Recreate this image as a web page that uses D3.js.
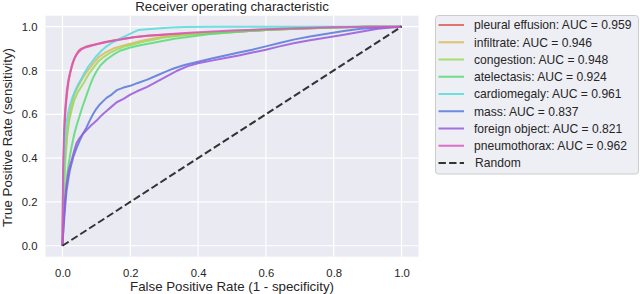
<!DOCTYPE html>
<html><head><meta charset="utf-8">
<script src="https://cdn.jsdelivr.net/npm/d3@7"></script>
<style>
html,body{margin:0;padding:0;background:#fff;}
text{font-family:"Liberation Sans",Arial,sans-serif;fill:#262626;}
</style></head>
<body><svg id="c" width="640" height="294"></svg>
<script>
const seriesNames = ["pleural effusion","infiltrate","congestion","atelectasis","cardiomegaly","mass","foreign object","pneumothorax"];
const aucValues = ["0.959","0.946","0.948","0.924","0.961","0.837","0.821","0.962"];
const seriesColors = ["#db5f57","#dbba57","#99db57","#57db78","#57dbdb","#5778db","#9957db","#db57ba"];
const xTicks = [0,0.2,0.4,0.6,0.8,1.0];
const yTicks = [0,0.2,0.4,0.6,0.8,1.0];

const pleural = [[0,0],[0.001,0.15],[0.002,0.3],[0.004,0.43],[0.006,0.53],[0.009,0.62],[0.013,0.69],[0.018,0.75],[0.023,0.79],[0.028,0.82],[0.034,0.85],[0.04,0.87],[0.048,0.89],[0.056,0.9],[0.068,0.908],[0.085,0.915],[0.1,0.92],[0.125,0.93],[0.15,0.937],[0.18,0.945],[0.21,0.952],[0.25,0.958],[0.3,0.963],[0.35,0.967],[0.4,0.97],[0.45,0.974],[0.5,0.977],[0.55,0.98],[0.6,0.985],[0.65,0.988],[0.7,0.991],[0.8,0.996],[0.9,0.999],[1,1]];
const infiltrate = [[0,0],[0.002,0.15],[0.005,0.3],[0.009,0.42],[0.014,0.52],[0.02,0.59],[0.027,0.64],[0.035,0.69],[0.045,0.725],[0.056,0.755],[0.068,0.785],[0.08,0.81],[0.095,0.84],[0.11,0.865],[0.13,0.885],[0.15,0.9],[0.17,0.91],[0.2,0.922],[0.24,0.938],[0.28,0.95],[0.33,0.958],[0.4,0.965],[0.5,0.975],[0.6,0.985],[0.7,0.992],[0.8,0.996],[0.9,0.999],[1,1]];
const congestion = [[0,0],[0.002,0.12],[0.005,0.28],[0.009,0.4],[0.014,0.5],[0.02,0.57],[0.027,0.62],[0.035,0.665],[0.045,0.7],[0.055,0.725],[0.065,0.75],[0.078,0.785],[0.09,0.81],[0.105,0.84],[0.12,0.86],[0.14,0.88],[0.16,0.895],[0.18,0.908],[0.21,0.92],[0.25,0.935],[0.3,0.95],[0.36,0.962],[0.43,0.972],[0.5,0.98],[0.6,0.988],[0.7,0.994],[0.8,0.997],[0.9,0.999],[1,1]];
const atelectasis = [[0,0],[0.003,0.1],[0.007,0.2],[0.012,0.3],[0.017,0.36],[0.022,0.41],[0.028,0.46],[0.035,0.51],[0.042,0.55],[0.05,0.59],[0.058,0.63],[0.066,0.665],[0.074,0.7],[0.082,0.735],[0.09,0.765],[0.1,0.795],[0.113,0.825],[0.13,0.85],[0.15,0.872],[0.17,0.89],[0.2,0.905],[0.233,0.916],[0.28,0.93],[0.33,0.945],[0.38,0.955],[0.43,0.965],[0.5,0.975],[0.6,0.985],[0.7,0.992],[0.8,0.996],[0.9,0.999],[1,1]];
const cardiomegaly = [[0,0],[0.002,0.2],[0.004,0.35],[0.007,0.47],[0.011,0.55],[0.016,0.6],[0.022,0.64],[0.03,0.68],[0.038,0.71],[0.046,0.735],[0.055,0.76],[0.065,0.79],[0.075,0.815],[0.085,0.835],[0.1,0.865],[0.115,0.89],[0.13,0.91],[0.15,0.93],[0.17,0.945],[0.19,0.96],[0.21,0.975],[0.225,0.985],[0.25,0.988],[0.28,0.992],[0.32,0.996],[0.36,0.998],[0.45,0.999],[0.6,1],[1,1]];
const mass = [[0,0],[0.003,0.08],[0.007,0.16],[0.012,0.25],[0.017,0.3],[0.022,0.345],[0.027,0.375],[0.032,0.405],[0.04,0.44],[0.051,0.48],[0.06,0.51],[0.071,0.54],[0.08,0.57],[0.09,0.6],[0.1,0.625],[0.11,0.645],[0.12,0.66],[0.13,0.675],[0.145,0.69],[0.16,0.71],[0.18,0.722],[0.2,0.73],[0.22,0.742],[0.25,0.758],[0.28,0.778],[0.31,0.798],[0.33,0.81],[0.36,0.825],[0.4,0.84],[0.44,0.855],[0.48,0.868],[0.52,0.882],[0.56,0.895],[0.6,0.91],[0.64,0.925],[0.685,0.942],[0.73,0.955],[0.78,0.968],[0.83,0.98],[0.88,0.99],[0.94,0.996],[1,1]];
const foreignObject = [[0,0],[0.003,0.1],[0.007,0.2],[0.012,0.28],[0.018,0.34],[0.023,0.37],[0.027,0.39],[0.034,0.43],[0.041,0.467],[0.05,0.49],[0.06,0.51],[0.071,0.528],[0.085,0.55],[0.1,0.57],[0.115,0.595],[0.13,0.615],[0.145,0.635],[0.16,0.655],[0.18,0.67],[0.2,0.69],[0.22,0.705],[0.25,0.725],[0.28,0.75],[0.31,0.775],[0.34,0.8],[0.37,0.82],[0.4,0.833],[0.44,0.845],[0.48,0.857],[0.52,0.868],[0.56,0.882],[0.6,0.895],[0.64,0.91],[0.685,0.925],[0.73,0.938],[0.78,0.95],[0.83,0.963],[0.88,0.977],[0.93,0.99],[0.97,0.996],[1,1]];
const pneumothorax = [[0,0],[0.001,0.2],[0.002,0.35],[0.004,0.48],[0.006,0.57],[0.009,0.64],[0.013,0.71],[0.018,0.76],[0.024,0.8],[0.03,0.835],[0.037,0.86],[0.045,0.88],[0.055,0.895],[0.068,0.905],[0.085,0.913],[0.1,0.92],[0.125,0.928],[0.15,0.936],[0.18,0.944],[0.21,0.952],[0.25,0.958],[0.3,0.964],[0.35,0.97],[0.4,0.975],[0.5,0.982],[0.6,0.988],[0.7,0.993],[0.8,0.997],[0.9,0.999],[1,1]];
const randomLine = [[0,0],[1,1]];

const seriesData = [pleural, infiltrate, congestion, atelectasis, cardiomegaly, mass, foreignObject, pneumothorax];

const svg = d3.select("#c");
const x = d3.scaleLinear().domain([-0.05,1.05]).range([45.5,418.5]);
const y = d3.scaleLinear().domain([-0.05,1.05]).range([256.7,15.7]);

svg.append("rect").attr("x",x(-0.05)).attr("y",y(1.05)).attr("width",x(1.05)-x(-0.05)).attr("height",y(-0.05)-y(1.05)).attr("fill","#EAEAF2");

// grid
svg.append("g").selectAll("line").data(xTicks).join("line")
  .attr("x1",d=>x(d)).attr("x2",d=>x(d)).attr("y1",y(-0.05)).attr("y2",y(1.05))
  .attr("stroke","#fff").attr("stroke-width",1.2);
svg.append("g").selectAll("line").data(yTicks).join("line")
  .attr("y1",d=>y(d)).attr("y2",d=>y(d)).attr("x1",x(-0.05)).attr("x2",x(1.05))
  .attr("stroke","#fff").attr("stroke-width",1.2);

// axes
const fmt = d3.format(".1f");
const gx = svg.append("g").attr("transform",`translate(0,${y(-0.05)})`)
  .call(d3.axisBottom(x).tickValues(xTicks).tickFormat(fmt).tickSize(0).tickPadding(12));
gx.select(".domain").remove();
gx.selectAll("text").style("font-size","11.3px").style("font-family","Liberation Sans, Arial, sans-serif").attr("fill","#262626");
const gy = svg.append("g").attr("transform",`translate(${x(-0.05)},0)`)
  .call(d3.axisLeft(y).tickValues(yTicks).tickFormat(fmt).tickSize(0).tickPadding(8));
gy.select(".domain").remove();
gy.selectAll("text").style("font-size","11.3px").style("font-family","Liberation Sans, Arial, sans-serif").attr("fill","#262626");

// lines
const line = d3.line().x(d=>x(d[0])).y(d=>y(d[1]));
seriesData.forEach((s,i)=>{
  svg.append("path").datum(s).attr("d",line).attr("fill","none")
    .attr("stroke",seriesColors[i]).attr("stroke-width",2).attr("stroke-opacity",0.85)
    .attr("stroke-linejoin","round");
});
svg.append("path").datum(randomLine).attr("d",line).attr("fill","none")
  .attr("stroke","#333").attr("stroke-width",2).attr("stroke-dasharray","7.4,3.2");

// titles
svg.append("text").attr("x",232).attr("y",10.5).attr("text-anchor","middle").style("font-size","13.3px").text("Receiver operating characteristic");
svg.append("text").attr("x",232).attr("y",290.5).attr("text-anchor","middle").style("font-size","13.3px").text("False Positive Rate (1 - specificity)");
svg.append("text").attr("transform","translate(11.5,137.5) rotate(-90)").attr("text-anchor","middle").style("font-size","13.3px").text("True Positive Rate (sensitivity)");

// legend
const lg = svg.append("g");
lg.append("rect").attr("x",435.5).attr("y",15.5).attr("width",203).attr("height",158.5).attr("rx",3)
  .attr("fill","#EEEEF5").attr("stroke","#cccccc").attr("stroke-width",1);
const labels = seriesNames.map((n,i)=>`${n}: AUC = ${aucValues[i]}`).concat(["Random"]);
const rowY = i => 25 + i*17.25;
labels.forEach((t,i)=>{
  const ln = lg.append("line").attr("x1",438.5).attr("x2",464).attr("y1",rowY(i)).attr("y2",rowY(i)).attr("stroke-width",2);
  if(i<seriesNames.length){ ln.attr("stroke",seriesColors[i]).attr("stroke-opacity",0.85); }
  else { ln.attr("stroke","#333").attr("stroke-dasharray","7.4,3.2"); }
  lg.append("text").attr("x",i<seriesNames.length?474:475).attr("y",rowY(i)).attr("dy","0.36em").style("font-size","12.1px").text(t);
});
</script></body></html>
